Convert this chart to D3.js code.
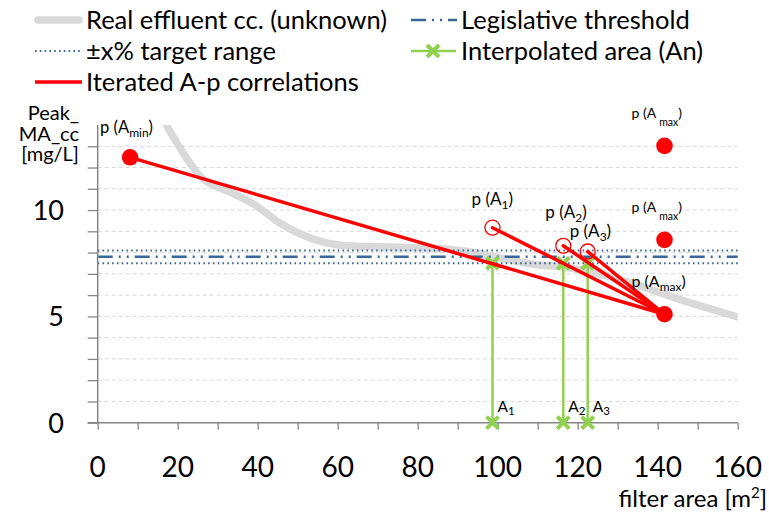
<!DOCTYPE html>
<html><head><meta charset="utf-8">
<script src="https://cdn.jsdelivr.net/npm/d3@7"></script>
<style>
html,body{margin:0;padding:0;background:#fff;}
svg{display:block;font-family:Lato, "Open Sans", sans-serif;}
</style></head>
<body>
<svg id="chart" width="769" height="518"></svg>
<script>
// ---- data ----
const xTickValues = [0, 20, 40, 60, 80, 100, 120, 140, 160];
const xMinorTicks = [0,10,20,30,40,50,60,70,80,90,100,110,120,130,140,150,160];
const yTickLabels = [0, 5, 10];
const yGridValues = [1,2,3,4,5,6,7,8,9,10,11,12,13];
const realCurveX = [17.25, 23.1, 26.3, 28.8, 33.1, 38.9, 45.6, 53.8, 62.3, 70.6, 83.8, 92.3, 100.6, 108.8, 117.3, 126.3, 148.8, 160];
const realCurveY = [13.97, 12.2, 11.46, 11.18, 10.84, 10.29, 9.38, 8.64, 8.32, 8.27, 8.2, 8.05, 7.75, 7.45, 7.3, 6.95, 5.6, 4.97];
const threshold = 7.8;
const rangeLow = 7.5, rangeHigh = 8.1;
const Amin = {x: 8.1, y: 12.48};
const AmaxX = 141.7;
const AmaxY = [13.02, 8.6, 5.1];
const iterNames = ["1", "2", "3"];
const iterX = [98.7, 116.4, 122.5];
const iterY = [9.17, 8.32, 8.05];
const interpY = 7.5;

// ---- layout ----
const svg = d3.select("#chart");
const x = d3.scaleLinear().domain([0, 160]).range([97.7, 737.7]);
const y = d3.scaleLinear().domain([0, 14]).range([422.7, 125]);
const RED = "#FF0000", GREEN = "#92D050", BLUE = "#3B6699", GRAY = "#D9D9D9", AXIS = "#868686";

// gridlines
svg.append("g").selectAll("line").data(yGridValues).join("line")
  .attr("x1", x(0)).attr("x2", x(160))
  .attr("y1", d => y(d)).attr("y2", d => y(d))
  .attr("stroke", "#D9D9D9").attr("stroke-width", 1).attr("stroke-dasharray", "4,3");

// real curve
const defs = svg.append("defs");
defs.append("clipPath").attr("id", "clip").append("rect")
  .attr("x", x(0)).attr("y", y(14)).attr("width", x(160) - x(0)).attr("height", y(0) - y(14));
const curvePts = realCurveX.map((v, i) => [v, realCurveY[i]]);
svg.append("path").datum(curvePts)
  .attr("clip-path", "url(#clip)")
  .attr("d", d3.line().x(d => x(d[0])).y(d => y(d[1])).curve(d3.curveMonotoneX))
  .attr("fill", "none").attr("stroke", GRAY).attr("stroke-width", 7.5).attr("stroke-linecap", "round");

// threshold + range
[rangeHigh, rangeLow].forEach(v => {
  svg.append("line").attr("x1", x(0)).attr("x2", x(160)).attr("y1", y(v)).attr("y2", y(v))
    .attr("stroke", BLUE).attr("stroke-width", 2).attr("stroke-dasharray", "1.6,3.2");
});
svg.append("line").attr("x1", x(0)).attr("x2", x(160)).attr("y1", y(threshold)).attr("y2", y(threshold))
  .attr("stroke", BLUE).attr("stroke-width", 2.5).attr("stroke-dasharray", "15,6,2,6,2,6");

// axes
const yAxis = d3.axisLeft(y).tickValues(d3.range(0, 14)).tickSize(10).tickFormat("");
const gy = svg.append("g").attr("transform", `translate(${x(0)},0)`).call(yAxis);
gy.select(".domain").attr("stroke", AXIS).attr("stroke-width", 1.5).attr("d", `M-0,${y(0)}V${y(14)}`);
gy.selectAll(".tick line").attr("stroke", AXIS).attr("stroke-width", 1.3);
const xAxis = d3.axisBottom(x).tickValues(xMinorTicks).tickSize(7).tickFormat("");
const gx = svg.append("g").attr("transform", `translate(0,${y(0)})`).call(xAxis);
gx.select(".domain").attr("stroke", AXIS).attr("stroke-width", 1.5).attr("d", `M${x(0) - 10},0H${x(160)}`);
gx.selectAll(".tick line").attr("stroke", AXIS).attr("stroke-width", 1.3);

// tick labels
svg.append("g").selectAll("text").data(xTickValues).join("text")
  .attr("x", d => x(d)).attr("y", 477).attr("text-anchor", "middle")
  .attr("font-size", 28).attr("fill", "#000").text(d => d);
svg.append("g").selectAll("text").data(yTickLabels).join("text")
  .attr("x", 64).attr("y", d => y(d) + 10).attr("text-anchor", "end")
  .attr("font-size", 27).attr("fill", "#000").text(d => d);

// axis titles
const yt = svg.append("text").attr("text-anchor", "end").attr("font-size", 20).attr("fill", "#000");
["Peak_", "MA_cc", "[mg/L]"].forEach((s, i) => yt.append("tspan").attr("x", 79).attr("y", 120 + i * 20.5).text(s));
const xt = svg.append("text").attr("x", 767).attr("y", 507).attr("text-anchor", "end").attr("font-size", 24).attr("fill", "#000");
xt.append("tspan").text("filter area [m");
xt.append("tspan").attr("font-size", 15).attr("dy", -9).text("2");
xt.append("tspan").attr("dy", 9).text("]");

// green interpolation
iterX.forEach((v, i) => {
  svg.append("line").attr("x1", x(v)).attr("x2", x(v)).attr("y1", y(interpY)).attr("y2", y(0))
    .attr("stroke", GREEN).attr("stroke-width", 2.5);
});
function drawX(cx, cy) {
  const s = 6;
  svg.append("path").attr("d", `M${cx - s},${cy - s}L${cx + s},${cy + s}M${cx - s},${cy + s}L${cx + s},${cy - s}`)
    .attr("stroke", GREEN).attr("stroke-width", 4);
}
iterX.forEach(v => { drawX(x(v), y(interpY)); drawX(x(v), y(0)); });

// red lines
const starts = [[Amin.x, Amin.y]].concat(iterX.map((v, i) => [v, iterY[i]]));
starts.forEach(p => {
  svg.append("line").attr("x1", x(p[0])).attr("y1", y(p[1])).attr("x2", x(AmaxX)).attr("y2", y(AmaxY[2]))
    .attr("stroke", RED).attr("stroke-width", 3.5).attr("stroke-linecap", "round");
});

// circles
svg.append("circle").attr("cx", x(Amin.x)).attr("cy", y(Amin.y)).attr("r", 8.3).attr("fill", RED);
AmaxY.forEach(v => svg.append("circle").attr("cx", x(AmaxX)).attr("cy", y(v)).attr("r", 8.3).attr("fill", RED));
iterX.forEach((v, i) => svg.append("circle").attr("cx", x(v)).attr("cy", y(iterY[i])).attr("r", 7.5)
  .attr("fill", "none").attr("stroke", RED).attr("stroke-width", 1.3));

// point labels
function pLabel(px, py, sub, size, subSize, subGap, subDrop) {
  const t = svg.append("text").attr("x", px).attr("y", py).attr("font-size", size).attr("fill", "#000");
  t.append("tspan").text("p (A");
  t.append("tspan").attr("font-size", subSize).attr("dx", subGap).attr("dy", subDrop).text(sub);
  t.append("tspan").attr("dy", -subDrop).text(")");
}
pLabel(x(Amin.x) - 30, y(Amin.y) - 24, "min", 16.5, 12, 0, 4);
pLabel(x(AmaxX) - 33, y(AmaxY[0]) - 28, "max", 14, 10.5, 3, 8);
pLabel(x(AmaxX) - 33, y(AmaxY[1]) - 28, "max", 14, 10.5, 3, 8);
pLabel(x(AmaxX) - 33, y(AmaxY[2]) - 27, "max", 16, 12, 0, 4);
const iterOff = [[-21, -23], [-18, -28], [-18, -15]];
iterX.forEach((v, i) => pLabel(x(v) + iterOff[i][0], y(iterY[i]) + iterOff[i][1], iterNames[i], 17, 12, 0, 4));
iterX.forEach((v, i) => {
  const t = svg.append("text").attr("x", x(v) + 5).attr("y", 412).attr("font-size", 15.5).attr("fill", "#000");
  t.append("tspan").text("A");
  t.append("tspan").attr("font-size", 11.5).attr("dy", 3).text(iterNames[i]);
});

// legend
const lg = svg.append("g");
lg.append("line").attr("x1", 38).attr("x2", 79).attr("y1", 20).attr("y2", 20)
  .attr("stroke", GRAY).attr("stroke-width", 7.5).attr("stroke-linecap", "round");
lg.append("line").attr("x1", 35).attr("x2", 81).attr("y1", 51).attr("y2", 51)
  .attr("stroke", BLUE).attr("stroke-width", 2).attr("stroke-dasharray", "1.6,3.2");
lg.append("line").attr("x1", 35).attr("x2", 82).attr("y1", 82).attr("y2", 82)
  .attr("stroke", RED).attr("stroke-width", 3.5);
lg.append("line").attr("x1", 411).attr("x2", 457).attr("y1", 20).attr("y2", 20)
  .attr("stroke", BLUE).attr("stroke-width", 2.5).attr("stroke-dasharray", "15,6,2,6,2,6");
lg.append("line").attr("x1", 411).attr("x2", 456).attr("y1", 51).attr("y2", 51)
  .attr("stroke", GREEN).attr("stroke-width", 2.5);
lg.append("path").attr("d", "M427,45L439,57M427,57L439,45").attr("stroke", GREEN).attr("stroke-width", 4);
const legendText = [
  ["Real effluent cc. (unknown)", 86, 20],
  ["\u00B1x% target range", 86, 51],
  ["Iterated A-p correlations", 86, 82],
  ["Legislative threshold", 461, 20],
  ["Interpolated area (An)", 461, 51]
];
lg.selectAll("text.lt").data(legendText).join("text").attr("class", "lt")
  .attr("x", d => d[1]).attr("y", d => d[2] + 9).attr("font-size", 25.5).attr("fill", "#000").text(d => d[0]);
</script>
</body></html>
